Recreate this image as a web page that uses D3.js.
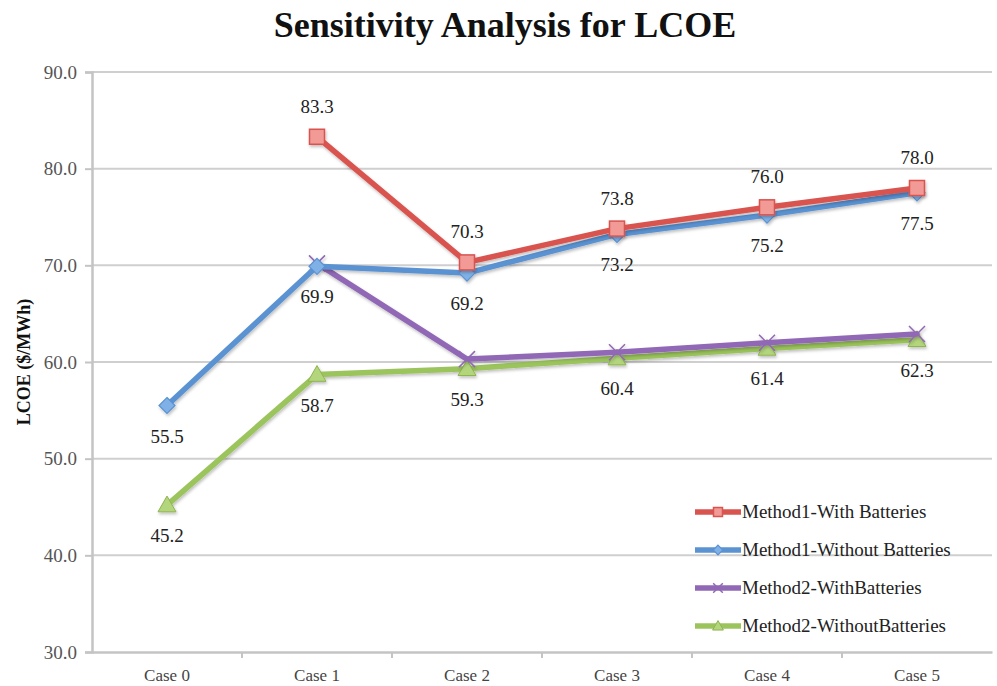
<!DOCTYPE html>
<html>
<head>
<meta charset="utf-8">
<script src="https://cdn.jsdelivr.net/npm/d3@7"></script>
<style>
  body { margin: 0; background: #fff; }
  #chart { width: 997px; height: 686px; }
</style>
</head>
<body>
<div id="chart"></div>
<script>
// chart data
const categories = ["Case 0", "Case 1", "Case 2", "Case 3", "Case 4", "Case 5"];
const m1With = [null, 83.3, 70.3, 73.8, 76.0, 78.0];
const m1Without = [55.5, 69.9, 69.2, 73.2, 75.2, 77.5];
const m2With = [null, 70.2, 60.3, 61.0, 62.0, 62.9];
const m2Without = [45.2, 58.7, 59.3, 60.4, 61.4, 62.3];
const yTicks = [30, 40, 50, 60, 70, 80, 90];

const FONT = "'Liberation Serif', 'Times New Roman', serif";

const series = [
    {name: "Method1-With Batteries", values: m1With, color: "#d9534f", fill: "#f29a96", marker: "square", label: "above"},
    {name: "Method1-Without Batteries", values: m1Without, color: "#5a92d2", fill: "#7fb0e6", marker: "diamond", label: "below"},
    {name: "Method2-WithBatteries", values: m2With, color: "#9068b5", fill: "#9068b5", marker: "star", label: null},
    {name: "Method2-WithoutBatteries", values: m2Without, color: "#9bc45c", fill: "#b3d67c", marker: "triangle", label: "below"}
];

const margin = {top: 72, right: 5, bottom: 34, left: 92};
const W = 997, H = 686;
const width = W - margin.left - margin.right;
const height = H - margin.top - margin.bottom;

const svg = d3.select("#chart").append("svg")
    .attr("width", W)
    .attr("height", H)
    .attr("font-family", FONT);

const defs = svg.append("defs");
const shadow = defs.append("filter").attr("id", "shadow")
    .attr("x", "-20%").attr("y", "-20%").attr("width", "140%").attr("height", "140%");
shadow.append("feDropShadow")
    .attr("dx", 1).attr("dy", 2).attr("stdDeviation", 1.5)
    .attr("flood-color", "#000").attr("flood-opacity", 0.25);

const g = svg.append("g").attr("transform", `translate(${margin.left},${margin.top})`);

const x = d3.scaleBand().domain(categories).range([0, width]);
const y = d3.scaleLinear().domain([30, 90]).range([height, 0]);

// gridlines
g.append("g")
    .selectAll("line")
    .data(yTicks.slice(1))
    .enter()
    .append("line")
    .attr("x1", 0).attr("x2", width)
    .attr("y1", d => y(d)).attr("y2", d => y(d))
    .attr("stroke", "#cfcfcf")
    .attr("stroke-width", 2);

// y axis
const yAxis = g.append("g")
    .call(d3.axisLeft(y).tickValues(yTicks).tickFormat(d3.format(".1f")).tickSize(7).tickPadding(8))
    .attr("font-family", FONT);
yAxis.select(".domain").attr("stroke", "#c4c4c4").attr("stroke-width", 2.5);
yAxis.selectAll(".tick line").attr("stroke", "#c4c4c4").attr("stroke-width", 2);
yAxis.selectAll("text").attr("font-size", "19px").attr("fill", "#555");

// x axis
const xAxis = g.append("g")
    .attr("transform", `translate(0,${height})`)
    .call(d3.axisBottom(x).tickSize(0).tickPadding(17))
    .attr("font-family", FONT);
xAxis.select(".domain").attr("stroke", "#c4c4c4").attr("stroke-width", 2.5);
xAxis.selectAll("text").attr("font-size", "17px").attr("fill", "#444");
// tick marks between categories
xAxis.selectAll("line.sep")
    .data(categories.slice(1))
    .enter()
    .append("line")
    .attr("class", "sep")
    .attr("x1", d => x(d)).attr("x2", d => x(d))
    .attr("y1", 0).attr("y2", 6)
    .attr("stroke", "#c4c4c4").attr("stroke-width", 2);

// title
svg.append("text")
    .attr("x", 505)
    .attr("y", 37)
    .attr("text-anchor", "middle")
    .attr("font-size", "36px")
    .attr("font-weight", "bold")
    .attr("fill", "#111")
    .text("Sensitivity Analysis for LCOE");

// y axis title
svg.append("text")
    .attr("transform", `translate(30,${margin.top + y(60)}) rotate(-90)`)
    .attr("text-anchor", "middle")
    .attr("font-size", "18px")
    .attr("font-weight", "bold")
    .attr("fill", "#111")
    .text("LCOE ($/MWh)");

function drawMarker(sel, s, cx, cy, scale) {
    const k = scale || 1;
    if (s.marker === "square") {
        const a = 15 * k;
        sel.append("rect")
            .attr("x", cx - a / 2).attr("y", cy - a / 2)
            .attr("width", a).attr("height", a)
            .attr("fill", s.fill).attr("stroke", s.color).attr("stroke-width", 1.5);
    } else if (s.marker === "diamond") {
        const a = 8 * k;
        sel.append("path")
            .attr("d", `M${cx},${cy - a}L${cx + a},${cy}L${cx},${cy + a}L${cx - a},${cy}Z`)
            .attr("fill", s.fill).attr("stroke", s.color).attr("stroke-width", 1.2);
    } else if (s.marker === "triangle") {
        const a = 9 * k;
        sel.append("path")
            .attr("d", `M${cx},${cy - a}L${cx + a},${cy + a * 0.75}L${cx - a},${cy + a * 0.75}Z`)
            .attr("fill", s.fill).attr("stroke", "#8fb450").attr("stroke-width", 1);
    } else if (s.marker === "star") {
        const a = 8 * k;
        sel.append("path")
            .attr("d", `M${cx - a},${cy - a}L${cx + a},${cy + a}M${cx + a},${cy - a}L${cx - a},${cy + a}`)
            .attr("stroke", s.color).attr("stroke-width", 1.5);
    }
}

const line = d3.line()
    .defined(d => d != null)
    .x((d, i) => x(categories[i]) + x.bandwidth() / 2)
    .y(d => y(d));

// draw series back to front: green, purple, blue, red
const order = [3, 2, 1, 0];
order.forEach(idx => {
    const s = series[idx];
    const sg = g.append("g").attr("filter", "url(#shadow)");
    sg.append("path")
        .datum(s.values)
        .attr("d", line)
        .attr("fill", "none")
        .attr("stroke", s.color)
        .attr("stroke-width", 5.5)
        .attr("stroke-linejoin", "round")
        .attr("stroke-linecap", "round");
    s.values.forEach((v, i) => {
        if (v == null) return;
        drawMarker(sg, s, x(categories[i]) + x.bandwidth() / 2, y(v));
    });
});

// data labels
series.forEach(s => {
    if (!s.label) return;
    g.selectAll(null)
        .data(s.values.map((v, i) => ({v, i})).filter(d => d.v != null))
        .enter()
        .append("text")
        .attr("x", d => x(categories[d.i]) + x.bandwidth() / 2)
        .attr("y", d => y(d.v) + (s.label === "above" ? -24 : 37))
        .attr("text-anchor", "middle")
        .attr("font-size", "19px")
        .attr("fill", "#222")
        .text(d => d.v.toFixed(1));
});

// legend
const legend = svg.append("g").attr("transform", "translate(695,512)");
series.forEach((s, i) => {
    const lg = legend.append("g").attr("transform", `translate(0,${i * 38})`);
    lg.append("line")
        .attr("x1", 0).attr("x2", 46)
        .attr("y1", 0).attr("y2", 0)
        .attr("stroke", s.color)
        .attr("stroke-width", 5.5);
    drawMarker(lg, s, 23, 0, 0.6);
    lg.append("text")
        .attr("x", 47)
        .attr("y", 6)
        .attr("font-size", "19px")
        .attr("fill", "#222")
        .text(s.name);
});
</script>
</body>
</html>
